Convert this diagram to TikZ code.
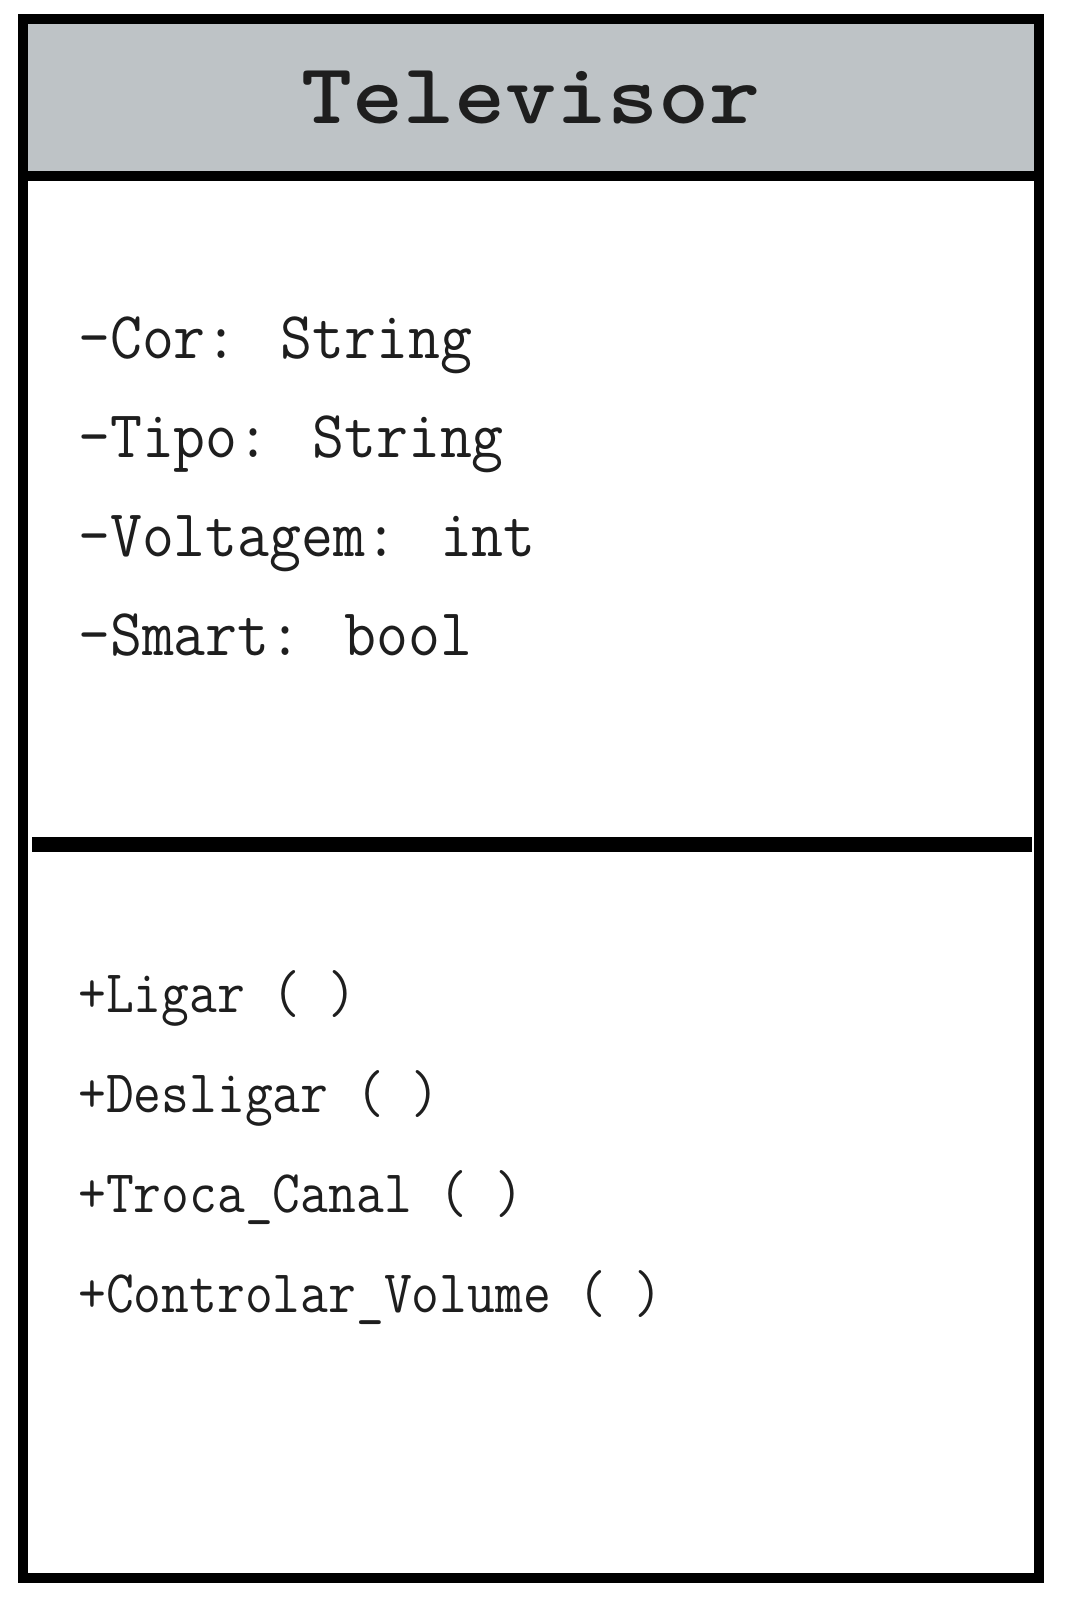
\documentclass[tikz,border=0pt]{standalone}
\usepackage{fontspec}
\usetikzlibrary{positioning}
\definecolor{headgray}{RGB}{190,195,198}
\definecolor{inkgray}{RGB}{30,30,30}

\begin{document}
\begin{tikzpicture}[x=1pt, y=-1pt, classtitle/.style={font=\ttfamily\bfseries\fontsize{86}{90}\selectfont, text=inkgray, inner sep=0pt, anchor=base, xscale=1.13}, attr/.style={font=\ttfamily\fontsize{62}{70}\selectfont, text=inkgray, inner sep=0pt, anchor=base west, yscale=1.08}, method/.style={font=\ttfamily\fontsize{54}{60}\selectfont, text=inkgray, inner sep=0pt, anchor=base west, yscale=1.12}]
    \useasboundingbox (0,0) rectangle (1065,1602);

    %Box
    \draw[line width=10pt] (23,19) rectangle (1039,1578);
    \draw[line width=10pt, fill=headgray] (23,19) rectangle (1039,176);
    \draw[line width=15pt] (32,844.5) -- (1032,844.5);

    %Nodes
    \node[classtitle](televisor) at (531,124){Televisor};
    \node[attr](cor) at (78,358){-Cor: String};
    \node[attr](tipo) at ([yshift=-99pt]cor.base west){-Tipo: String};
    \node[attr](voltagem) at ([yshift=-99pt]tipo.base west){-Voltagem: int};
    \node[attr](smart) at ([yshift=-99pt]voltagem.base west){-Smart: bool};
    \node[method](ligar) at (78,1012){+Ligar ( )};
    \node[method](desligar) at ([yshift=-100pt]ligar.base west){+Desligar ( )};
    \node[method](troca) at ([yshift=-100pt]desligar.base west){+Troca\_Canal ( )};
    \node[method](volume) at ([yshift=-100pt]troca.base west){+Controlar\_Volume ( )};

\end{tikzpicture}
\end{document}
